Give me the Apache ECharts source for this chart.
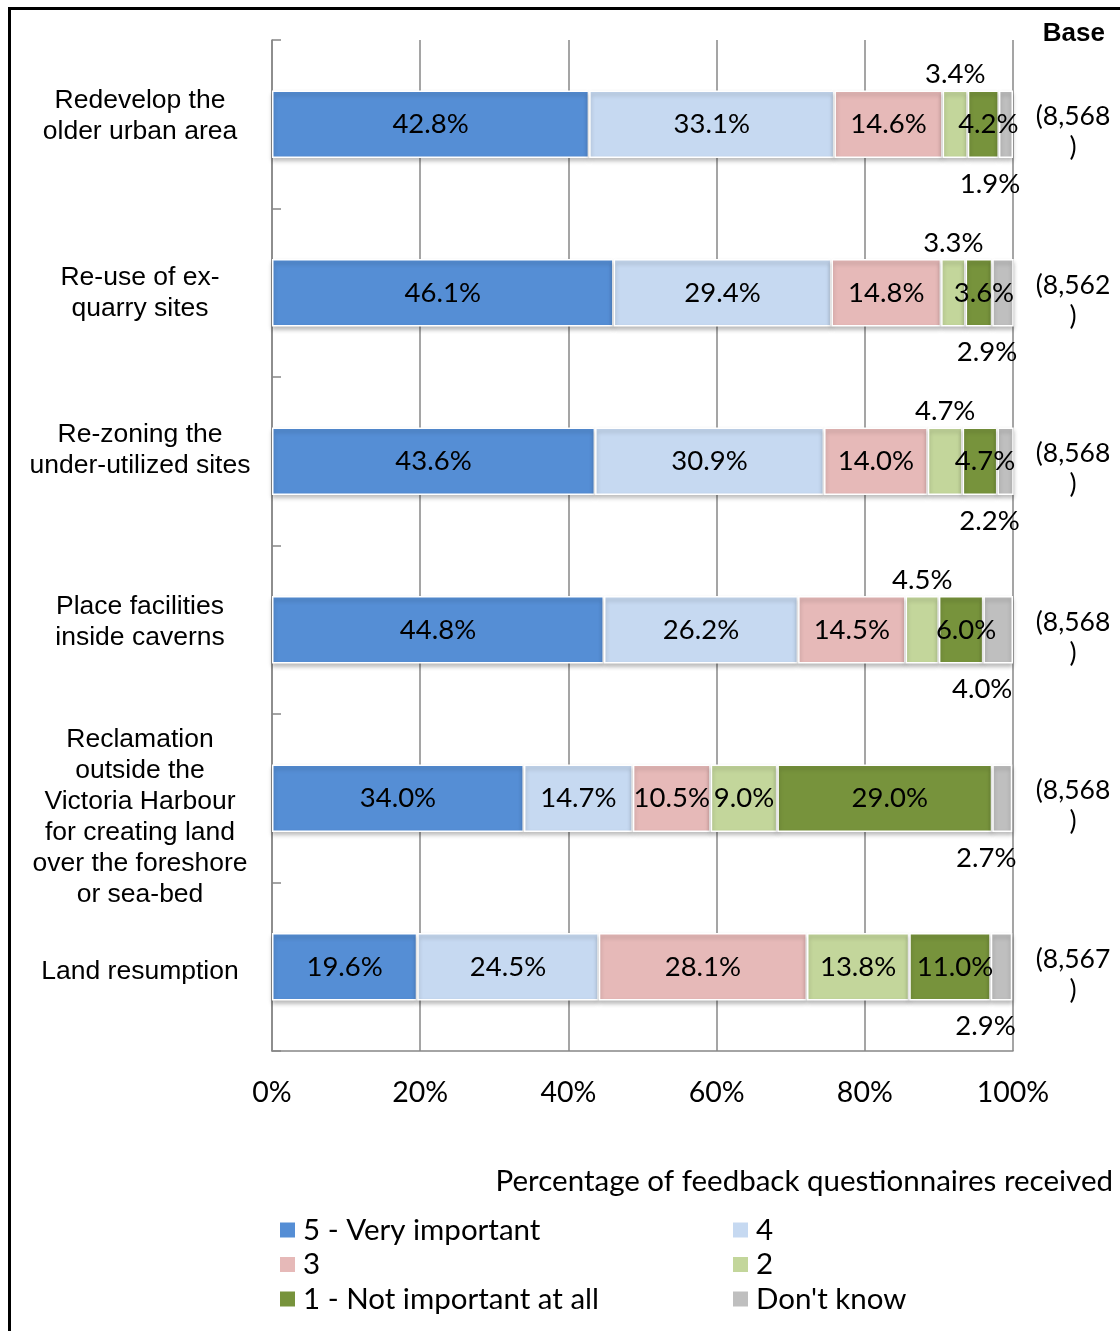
<!DOCTYPE html>
<html>
<head>
<meta charset="utf-8">
<script src="https://cdn.jsdelivr.net/npm/echarts@6/dist/echarts.min.js"></script>
<style>
html,body{margin:0;padding:0;background:#fff;}
#chart{width:1120px;height:1331px;}
</style>
</head>
<body>
<div id="chart"></div>
<script>
var categories = [
  "Redevelop the\nolder urban area",
  "Re-use of ex-\nquarry sites",
  "Re-zoning the\nunder-utilized sites",
  "Place facilities\ninside caverns",
  "Reclamation\noutside the\nVictoria Harbour\nfor creating land\nover the foreshore\nor sea-bed",
  "Land resumption"
];
var baseLabels = ["(8,568\n)", "(8,562\n)", "(8,568\n)", "(8,568\n)", "(8,568\n)", "(8,567\n)"];
var seriesNames = ["5 - Very important", "4", "3", "2", "1 - Not important at all", "Don't know"];
var s5  = [42.8, 46.1, 43.6, 44.8, 34.0, 19.6];
var s4  = [33.1, 29.4, 30.9, 26.2, 14.7, 24.5];
var s3  = [14.6, 14.8, 14.0, 14.5, 10.5, 28.1];
var s2  = [3.4, 3.3, 4.7, 4.5, 9.0, 13.8];
var s1  = [4.2, 3.6, 4.7, 6.0, 29.0, 11.0];
var sDK = [1.9, 2.9, 2.2, 4.0, 2.7, 2.9];
var xTicks = [0, 20, 40, 60, 80, 100];

var colors = ["#558ED5", "#C6D9F1", "#E6B9B8", "#C3D69B", "#77933C", "#BFBFBF"];
var allData = [s5, s4, s3, s2, s1, sDK];
// vertical nudges of the category label blocks (px, + = down), as wrapped in the original
var catShift = [-8, 0, -11, -8, 19, 5];
var baseShift = 8;

var labelFont = {fontFamily: "Lato", fontSize: 27.5, color: "#000"};

function mkSeries(idx) {
  var vals = allData[idx];
  var data = vals.map(function (v) {
    var item = {value: v};
    if (idx === 3 && v < 5) {
      item.label = {position: "top", distance: 2};
    }
    return item;
  });
  var lbl = Object.assign({
    show: true,
    position: "inside",
    formatter: function (p) { return p.value.toFixed(1) + "%"; }
  }, labelFont);
  if (idx === 4) {
    lbl.offset = [5, 0];
  }
  if (idx === 5) {
    lbl.position = "bottom";
    lbl.distance = 12;
    lbl.offset = [-16, 0];
  }
  return {
    name: seriesNames[idx],
    type: "bar",
    stack: "total",
    barCategoryGap: "60%",
    data: data,
    itemStyle: {
      color: colors[idx],
      borderColor: "#fff",
      borderWidth: 1.5,
      shadowBlur: 4,
      shadowOffsetY: 3,
      shadowColor: "rgba(0,0,0,0.25)"
    },
    label: lbl
  };
}

// spacer lines (rich text) used to nudge a multi-line label block up or down
function shifted(text, s, key) {
  if (!s) return text;
  var sp = "{" + key + "| }";
  return s > 0 ? sp + "\n" + text : text + "\n" + sp;
}
var catRich = {};
catShift.forEach(function (s, i) {
  catRich["c" + i] = {fontSize: 1, lineHeight: Math.max(1, 2 * Math.abs(s))};
});

var catLabelStyle = {align: "center", fontFamily: "Liberation Sans", fontSize: 26.5, lineHeight: 31, color: "#000"};
var legendText = {fontFamily: "Lato", fontSize: 29.5, lineHeight: 30, color: "#000", padding: [0, 0, 0, 3]};

var chart = echarts.init(document.getElementById("chart"));
chart.setOption({
  animation: false,
  backgroundColor: "#fff",
  title: [
    {text: "Base", right: 15, top: 21, padding: 0,
     textStyle: {fontFamily: "Liberation Sans", fontWeight: "bold", fontSize: 26, color: "#000"}},
    {text: "Percentage of feedback questionnaires received", right: 7, top: 1166, padding: 0,
     textStyle: {fontFamily: "Lato", fontWeight: "normal", fontSize: 29.5, color: "#000"}}
  ],
  grid: {left: 272, right: 107, top: 40, bottom: 280, containLabel: false, outerBoundsMode: "none"},
  xAxis: {
    type: "value",
    min: xTicks[0],
    max: xTicks[xTicks.length - 1],
    interval: 20,
    axisLine: {show: true, lineStyle: {color: "#878787", width: 1.5}},
    axisTick: {show: false},
    splitLine: {show: true, lineStyle: {color: "#878787", width: 1.5}},
    axisLabel: {formatter: "{value}%", margin: 27, fontFamily: "Lato", fontSize: 28.5, color: "#000"}
  },
  yAxis: [
    {
      type: "category",
      inverse: true,
      data: categories,
      axisLine: {show: true, lineStyle: {color: "#878787", width: 1.5}},
      axisTick: {show: true, inside: true, length: 9, lineStyle: {color: "#878787", width: 1.5}},
      axisLabel: Object.assign({
        margin: 132,
        rich: catRich,
        formatter: function (v, i) { return shifted(v, catShift[i], "c" + i); }
      }, catLabelStyle)
    },
    {
      type: "category",
      inverse: true,
      position: "right",
      data: baseLabels,
      axisLine: {show: false},
      axisTick: {show: false},
      axisLabel: {
        align: "center", margin: 60, fontFamily: "Lato", fontSize: 26.5, lineHeight: 31, color: "#000",
        rich: {b: {fontSize: 1, lineHeight: 2 * baseShift}},
        formatter: function (v) { return shifted(v, baseShift, "b"); }
      }
    }
  ],
  legend: [
    {data: [seriesNames[0], seriesNames[2], seriesNames[4]], orient: "vertical", left: 275, top: 1210,
     icon: "rect", itemWidth: 15, itemHeight: 15, itemGap: 4.5,
     itemStyle: {borderWidth: 0, shadowBlur: 0, shadowOffsetY: 0},
     textStyle: legendText},
    {data: [seriesNames[1], seriesNames[3], seriesNames[5]], orient: "vertical", left: 728, top: 1210,
     icon: "rect", itemWidth: 15, itemHeight: 15, itemGap: 4.5,
     itemStyle: {borderWidth: 0, shadowBlur: 0, shadowOffsetY: 0},
     textStyle: legendText}
  ],
  graphic: [
    {type: "rect", shape: {x: 9.5, y: 8.5, width: 1130, height: 1340}, style: {fill: "none", stroke: "#000", lineWidth: 3}, silent: true}
  ],
  series: [0, 1, 2, 3, 4, 5].map(mkSeries)
});
</script>
</body>
</html>
